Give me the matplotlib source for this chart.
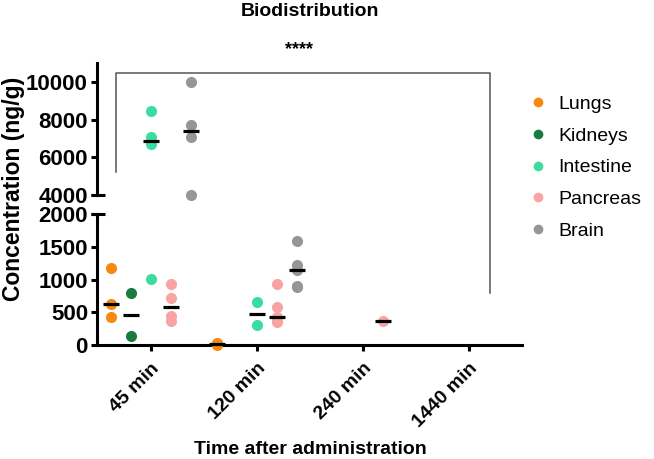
import numpy as np
import matplotlib
matplotlib.use('Agg')
from matplotlib import pyplot as plt
from matplotlib.lines import Line2D

plt.rcParams['font.family'] = ['Liberation Sans', 'DejaVu Sans']

times = ['45 min', '120 min', '240 min', '1440 min']
organs = ['Lungs', 'Kidneys', 'Intestine', 'Pancreas', 'Brain']
colors = ['#F8880F', '#1A7B3F', '#3CDBA0', '#F9A3A3', '#969696']

# values per time point (ng/g)
lungs = [[1180, 620, 420], [25, 10, 0], [], []]
kidneys = [[790, 140], [], [], []]
intestine = [[8470, 7060, 6710, 1010], [660, 300], [], []]
pancreas = [[930, 710, 440, 360], [930, 580, 420, 400, 355], [365], []]
brain = [[9980, 7700, 7070, 4000], [1590, 1220, 1150, 905, 880], [], []]
series = [lungs, kidneys, intestine, pancreas, brain]

W, H = 654, 459
fig = plt.figure(figsize=(W / 100, H / 100), dpi=100)


def px_rect(l, t, r, b):
    return [l / W, 1 - b / H, (r - l) / W, (b - t) / H]


ax_top = fig.add_axes(px_rect(97, 63, 522, 195))
ax_bot = fig.add_axes(px_rect(97, 214, 522, 345))
split = 3000

x = np.arange(len(times))
offsets = np.linspace(-0.377, 0.377, len(organs))

for data, col, off in zip(series, colors, offsets):
    for i, vals in enumerate(data):
        if not vals:
            continue
        for v in vals:
            ax = ax_top if v >= split else ax_bot
            ax.plot(x[i] + off, v, 'o', color=col, ms=8, mec='none', clip_on=False, zorder=3)
        med = np.median(vals)
        ax = ax_top if med >= split else ax_bot
        ax.plot(x[i] + off, med, marker='_', color='black', ms=11.5, mew=2.3, clip_on=False, zorder=4)

for ax in (ax_top, ax_bot):
    ax.set_xlim(-0.51, 3.5)
    for s in ('top', 'right'):
        ax.spines[s].set_visible(False)
    ax.spines['left'].set_linewidth(2.2)
    ax.spines['bottom'].set_linewidth(2.2)
    ax.tick_params(width=2.2, length=4.5, labelsize=14)
    ax.tick_params(axis='y', labelsize=16, pad=2)

ax_top.set_ylim(4000, 11000)
ax_top.set_yticks([4000, 6000, 8000, 10000])
ax_top.spines['bottom'].set_visible(False)
ax_top.tick_params(axis='x', bottom=False, labelbottom=False)

ax_bot.set_ylim(0, 2000)
ax_bot.set_yticks([0, 500, 1000, 1500, 2000])
ax_bot.set_xticks(x)
ax_bot.set_xticklabels(times, rotation=45, ha='right', rotation_mode='anchor')
ax_bot.tick_params(axis='x', pad=6)

for ax in (ax_top, ax_bot):
    for lab in ax.get_yticklabels() + ax.get_xticklabels():
        lab.set_fontweight('bold')

# axis break marks
ax_top.plot([-0.014, 0.019], [4000, 4000], transform=ax_top.get_yaxis_transform(),
            color='black', lw=2.2, clip_on=False, solid_capstyle='butt')
ax_bot.plot([-0.014, 0.019], [2000, 2000], transform=ax_bot.get_yaxis_transform(),
            color='black', lw=2.2, clip_on=False, solid_capstyle='butt')

# significance bracket
inv = fig.transFigure.inverted()
p1 = inv.transform(ax_top.transData.transform((-0.33, 5230)))
p2 = inv.transform(ax_top.transData.transform((-0.33, 10480)))
p3 = inv.transform(ax_top.transData.transform((3.2, 10480)))
p4 = inv.transform(ax_bot.transData.transform((3.2, 790)))
fig.add_artist(Line2D([p1[0], p2[0], p3[0], p4[0]], [p1[1], p2[1], p3[1], p4[1]],
                      color='#555555', lw=1.1, transform=fig.transFigure))
fig.text(299 / W, 1 - 50 / H, '****', ha='center', va='center', fontsize=13, fontweight='bold')

fig.text(310 / W, 1 - 12 / H, 'Biodistribution', ha='center', va='center',
         fontsize=14, fontweight='bold')
fig.text(310 / W, 1 - 449 / H, 'Time after administration', ha='center', va='center',
         fontsize=14, fontweight='bold')
fig.text(14 / W, 1 - 189 / H, 'Concentration (ng/g)', ha='center', va='center',
         rotation=90, fontsize=16.5, fontweight='bold')

handles = [Line2D([], [], ls='none', marker='o', ms=7, color=c, mec='none') for c in colors]
fig.legend(handles, organs, loc='upper left', bbox_to_anchor=(511 / W, 1 - 78 / H),
           frameon=False, fontsize=14, handletextpad=0.55, labelspacing=0.72,
           handlelength=1.0)

fig.savefig('out.png', dpi=100)
